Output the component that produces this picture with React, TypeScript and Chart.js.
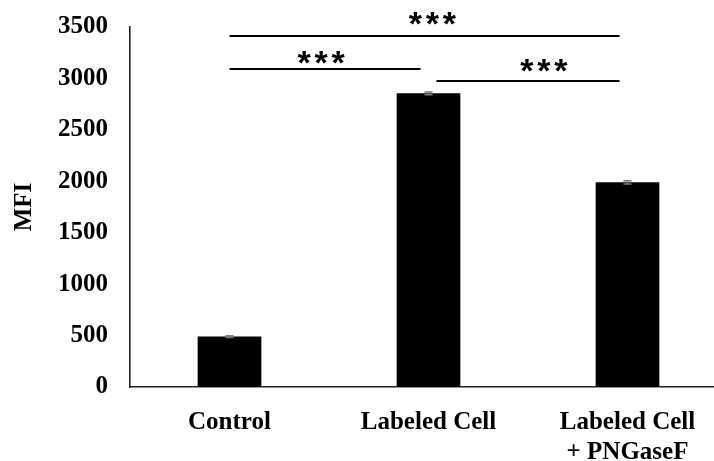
import React, { useEffect, useRef } from "react";
import { Chart, registerables } from "chart.js";

Chart.register(...registerables);

// ---- data ----
const categories: string[][] = [["Control"], ["Labeled Cell"], ["Labeled Cell", "+ PNGaseF"]];
const mfiValues = [490, 2855, 1990];
const mfiErrors = [8, 14, 16];
const yMin = 0;
const yMax = 3500;
const yStep = 500;
const yTitle = "MFI";

// significance brackets (category positions, data-level heights)
const bracketStart = [0, 0, 1.04];
const bracketEnd = [1.96, 0.96, 1.96];
const bracketLevel = [3412, 3092, 2975];
const starsPos = [1.02, 0.46, 1.58];
const starsLevel = [3578, 3199, 3121];
const starsText = ["***", "***", "***"];

const SERIF = "'Liberation Serif', 'Times New Roman', serif";
const SANS = "'Liberation Sans', Arial, sans-serif";

function catPx(scale: any, v: number): number {
  const p0 = scale.getPixelForTick(0);
  const p1 = scale.getPixelForTick(1);
  return p0 + v * (p1 - p0);
}

const annotationPlugin = {
  id: "annotations",
  afterDatasetsDraw(chart: any) {
    const ctx = chart.ctx;
    const x = chart.scales.x;
    const y = chart.scales.y;
    ctx.save();
    // error bars
    ctx.strokeStyle = "#7a7a7a";
    ctx.lineWidth = 1.5;
    mfiValues.forEach((v, i) => {
      const cx = x.getPixelForTick(i);
      const top = y.getPixelForValue(v + mfiErrors[i]);
      const bot = y.getPixelForValue(v - mfiErrors[i]);
      ctx.beginPath();
      ctx.moveTo(cx, top);
      ctx.lineTo(cx, bot);
      ctx.moveTo(cx - 4, top);
      ctx.lineTo(cx + 4, top);
      ctx.moveTo(cx - 4, bot);
      ctx.lineTo(cx + 4, bot);
      ctx.stroke();
    });
    ctx.restore();
  },
  afterDraw(chart: any) {
    const ctx = chart.ctx;
    const x = chart.scales.x;
    const y = chart.scales.y;
    const area = chart.chartArea;
    ctx.save();
    // brackets
    ctx.strokeStyle = "#000";
    ctx.lineWidth = 2;
    bracketStart.forEach((s, i) => {
      const py = Math.round(y.getPixelForValue(bracketLevel[i]));
      ctx.beginPath();
      ctx.moveTo(catPx(x, s), py);
      ctx.lineTo(catPx(x, bracketEnd[i]), py);
      ctx.stroke();
    });
    // stars
    ctx.fillStyle = "#000";
    ctx.font = `bold 34px ${SANS}`;
    ctx.textAlign = "center";
    ctx.textBaseline = "alphabetic";
    const m = ctx.measureText("*");
    const off = (m.actualBoundingBoxAscent - m.actualBoundingBoxDescent) / 2;
    starsText.forEach((t, i) => {
      const cx = catPx(x, starsPos[i]);
      const cy = y.getPixelForValue(starsLevel[i]);
      const chars = t.split("");
      chars.forEach((c, k) => {
        ctx.fillText(c, cx + (k - (chars.length - 1) / 2) * 17, cy + off);
      });
    });
    // y title
    ctx.font = `bold 25px ${SERIF}`;
    ctx.textBaseline = "middle";
    ctx.translate(25, (area.top + area.bottom) / 2);
    ctx.rotate(-Math.PI / 2);
    ctx.fillText(yTitle, 0, 0);
    ctx.restore();
  },
};

export default function App() {
  const ref = useRef<HTMLCanvasElement>(null);
  useEffect(() => {
    if (!ref.current) return;
    const chart = new Chart(ref.current, {
      type: "bar",
      data: {
        labels: categories,
        datasets: [
          {
            data: mfiValues,
            backgroundColor: "#000",
            borderWidth: 0,
            categoryPercentage: 1,
            barPercentage: 0.32,
          },
        ],
      },
      options: {
        animation: false,
        responsive: false,
        devicePixelRatio: 1,
        layout: { padding: { top: 27, left: 0, right: 0, bottom: 0 } },
        plugins: { legend: { display: false }, tooltip: { enabled: false } },
        scales: {
          x: {
            grid: { display: false, drawTicks: false },
            border: { display: true, color: "#222", width: 1.6 },
            ticks: {
              color: "#000",
              padding: 21,
              maxRotation: 0,
              autoSkip: false,
              font: { family: SERIF, size: 25, weight: "bold", lineHeight: 1.2 },
            },
            afterFit: (s: any) => {
              s.height = 74;
              s.paddingLeft = 0;
              s.paddingRight = 0;
            },
          },
          y: {
            min: yMin,
            max: yMax,
            grid: { display: false, drawTicks: false },
            border: { display: true, color: "#222", width: 1.6 },
            ticks: {
              stepSize: yStep,
              color: "#000",
              padding: 22,
              font: { family: SERIF, size: 25, weight: "bold" },
              callback: (v: any) => String(v),
            },
            afterFit: (s: any) => {
              s.width = 130;
              s.paddingTop = 0;
              s.paddingBottom = 0;
            },
          },
        },
      },
      plugins: [annotationPlugin],
    });
    return () => chart.destroy();
  }, []);
  return (
    <div
      style={{
        position: "absolute",
        left: 0,
        top: 0,
        width: 714,
        height: 461,
        overflow: "hidden",
        background: "#fff",
      }}
    >
      <canvas ref={ref} width={727} height={461} style={{ width: 727, height: 461, display: "block" }} />
    </div>
  );
}
